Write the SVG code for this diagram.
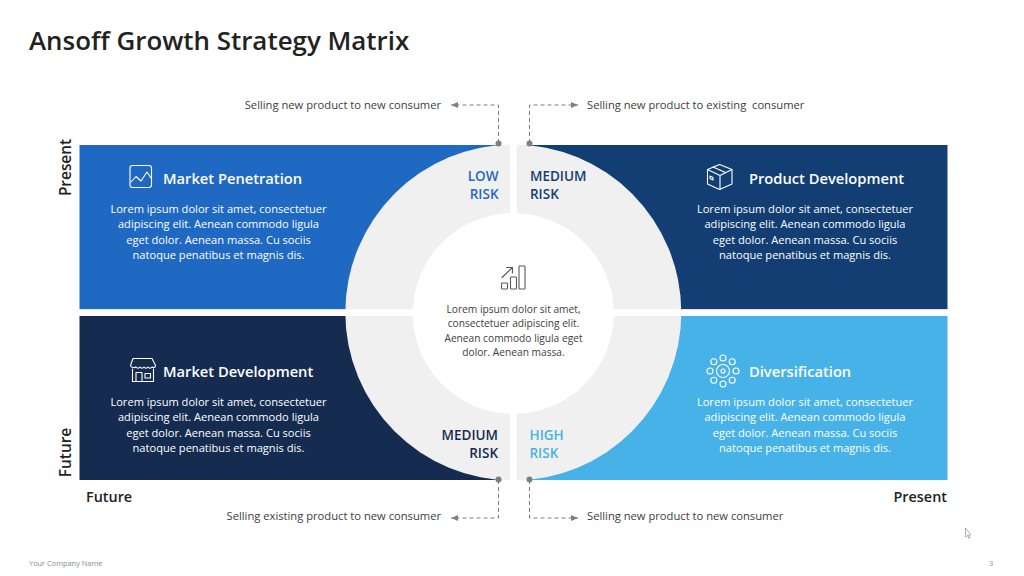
<svg xmlns="http://www.w3.org/2000/svg" width="1024" height="576" viewBox="0 0 1024 576">
<defs>
<marker id="ah" markerWidth="8" markerHeight="7" refX="7" refY="3" orient="auto" markerUnits="userSpaceOnUse"><path d="M0 0L7 3L0 6z" fill="#7f7f7f"/></marker>
</defs>
<style>
text{font-family:"Open Sans","Noto Sans","Liberation Sans",sans-serif}
.title{font-size:25.9px;font-weight:600;fill:#222}
.h{font-size:14.7px;font-weight:600;fill:#fff}
.b{font-size:11.1px;fill:#fff;text-anchor:middle}
.c{font-size:10.2px;fill:#404040;text-anchor:middle}
.cap{font-size:11.2px;fill:#404040;white-space:pre}
.ax{font-size:14.4px;font-weight:600;fill:#222}
.axv{font-size:15.4px}
.r{font-size:13.5px;font-weight:600}
.e{text-anchor:end}
.ic{fill:none;stroke:#fff;stroke-width:1.1;stroke-linejoin:round;stroke-linecap:round}
.conn{fill:none;stroke:#7f7f7f;stroke-width:1;stroke-dasharray:4 3}
.dot{fill:#7f7f7f}
.ft{font-size:7.4px;fill:#8c8c8c}
</style>
<rect width="1024" height="576" fill="#fff"/>
<text class="title" x="29" y="49.500">Ansoff Growth Strategy Matrix</text>

<g id="quadrants">
<rect id="q1" x="79.500" y="145" width="434" height="164.500" fill="#1f69c3"/>
<rect id="q2" x="513.500" y="145" width="434" height="164.500" fill="#123e73"/>
<rect id="q3" x="79.500" y="316" width="434" height="164" fill="#152c50"/>
<rect id="q4" x="513.500" y="316" width="434" height="164" fill="#47b2e7"/>
</g>
<g id="ring">
<circle cx="513.300" cy="312.500" r="168" fill="#f0f0f0"/>
<rect x="79" y="309.300" width="869" height="6.700" fill="#fff"/>
<rect x="510" y="140" width="6.800" height="345" fill="#fff"/>
<circle cx="513.300" cy="313.500" r="100.500" fill="#fff"/>
</g>

<g id="connectors">
<path class="conn" d="M498.500 143V105H451" marker-end="url(#ah)"/>
<path class="conn" d="M529.500 143V105H578" marker-end="url(#ah)"/>
<path class="conn" d="M498.500 480V518H451" marker-end="url(#ah)"/>
<path class="conn" d="M529.500 480V518H578" marker-end="url(#ah)"/>
<circle class="dot" cx="498.500" cy="143.500" r="3"/>
<circle class="dot" cx="529.500" cy="143.500" r="3"/>
<circle class="dot" cx="498.500" cy="479.500" r="3"/>
<circle class="dot" cx="529.500" cy="479.500" r="3"/>
</g>

<g id="node-market-penetration">
<g class="ic"><rect x="130" y="165.500" width="21.500" height="22" rx="2.500"/><path d="M131 182L136 176.500L141 181L147 172L151 178"/></g>
<text class="h" x="163" y="183.500">Market Penetration</text>
<text class="b" x="218.500" y="212.500">Lorem ipsum dolor sit amet, consectetuer</text>
<text class="b" x="218.500" y="228">adipiscing elit. Aenean commodo ligula</text>
<text class="b" x="218.500" y="243.500">eget dolor. Aenean massa. Cu sociis</text>
<text class="b" x="218.500" y="258.500">natoque penatibus et magnis dis.</text>
</g>
<g id="node-product-development">
<g class="ic"><path d="M719.500 164.500L732 169.500V184L719.500 189.500L707.500 184V169.500z"/><path d="M707.500 169.500L720 175.500L732 169.500M720 175.500V189.500M713 167L725.500 172.500"/><path d="M710 176l3 1.500v2.500l-3 -1.500z"/></g>
<text class="h" x="749" y="183.500">Product Development</text>
<text class="b" x="805" y="212.500">Lorem ipsum dolor sit amet, consectetuer</text>
<text class="b" x="805" y="228">adipiscing elit. Aenean commodo ligula</text>
<text class="b" x="805" y="243.500">eget dolor. Aenean massa. Cu sociis</text>
<text class="b" x="805" y="258.500">natoque penatibus et magnis dis.</text>
</g>
<g id="node-market-development">
<g class="ic"><path d="M133 358.500H152L155.500 365.500C155.500 368 153 368 152 367C151 368.500 149 368.500 148 367C147 368.500 145 368.500 144 367C143 368.500 141 368.500 140 367C139 368.500 137 368.500 136 367C135 368 131 368 130.500 365.500z"/><path d="M132.500 369V381.500H153.500V369M136 381.500V372.500H142V381.500M145 373.500H150.500V378H145z"/></g>
<text class="h" x="163" y="376.500">Market Development</text>
<text class="b" x="218.500" y="405.500">Lorem ipsum dolor sit amet, consectetuer</text>
<text class="b" x="218.500" y="421">adipiscing elit. Aenean commodo ligula</text>
<text class="b" x="218.500" y="436.500">eget dolor. Aenean massa. Cu sociis</text>
<text class="b" x="218.500" y="452">natoque penatibus et magnis dis.</text>
</g>
<g id="node-diversification">
<g class="ic"><circle cx="723" cy="371" r="6.500"/><circle cx="723" cy="371" r="2"/><circle cx="723" cy="358" r="3"/><circle cx="723" cy="384" r="3"/><circle cx="710" cy="371" r="3"/><circle cx="736" cy="371" r="3"/><circle cx="713.800" cy="361.800" r="3"/><circle cx="732.200" cy="361.800" r="3"/><circle cx="713.800" cy="380.200" r="3"/><circle cx="732.200" cy="380.200" r="3"/></g>
<text class="h" x="749" y="376.500">Diversification</text>
<text class="b" x="805" y="405.500">Lorem ipsum dolor sit amet, consectetuer</text>
<text class="b" x="805" y="421">adipiscing elit. Aenean commodo ligula</text>
<text class="b" x="805" y="436.500">eget dolor. Aenean massa. Cu sociis</text>
<text class="b" x="805" y="452">natoque penatibus et magnis dis.</text>
</g>

<g id="node-center">
<g fill="none" stroke="#595959" stroke-width="1.100" stroke-linejoin="round" stroke-linecap="round"><rect x="501.500" y="283" width="6" height="6" rx=".8"/><rect x="510.500" y="277" width="6" height="12" rx=".8"/><rect x="519" y="266" width="6" height="23" rx=".8"/><path d="M502 277.500L512.500 267.500M506.500 267.500H512.500V273"/></g>
<text class="c" x="513.500" y="313">Lorem ipsum dolor sit amet,</text>
<text class="c" x="513.500" y="327">consectetuer adipiscing elit.</text>
<text class="c" x="513.500" y="341.500">Aenean commodo ligula eget</text>
<text class="c" x="513.500" y="355.500">dolor. Aenean massa.</text>
</g>

<g id="risk-labels">
<text class="r e" fill="#1f69c3" x="498.500" y="180.500">LOW</text>
<text class="r e" fill="#1f69c3" x="498.500" y="198.500">RISK</text>
<text class="r" fill="#123e73" x="530" y="180.500">MEDIUM</text>
<text class="r" fill="#123e73" x="530" y="198.500">RISK</text>
<text class="r e" fill="#152c50" x="498" y="440">MEDIUM</text>
<text class="r e" fill="#152c50" x="498" y="458">RISK</text>
<text class="r" fill="#47b2e7" x="529.500" y="440">HIGH</text>
<text class="r" fill="#47b2e7" x="529.500" y="458">RISK</text>
</g>

<g id="captions">
<text class="cap e" x="441" y="109">Selling new product to new consumer</text>
<text class="cap" x="587" y="109">Selling new product to existing  consumer</text>
<text class="cap e" x="441" y="520">Selling existing product to new consumer</text>
<text class="cap" x="587" y="520">Selling new product to new consumer</text>
</g>

<g id="axes">
<text class="ax axv" text-anchor="middle" transform="translate(71 167.500) rotate(-90)">Present</text>
<text class="ax axv" text-anchor="middle" transform="translate(71 452.500) rotate(-90)">Future</text>
<text class="ax" x="86" y="502">Future</text>
<text class="ax e" x="947" y="502">Present</text>
</g>

<text class="ft" x="29" y="566">Your Company Name</text>
<text class="ft" x="989" y="566">3</text>
<path d="M965.500 528V537L967.500 535.500L969 538.500L970 538L968.500 535H971z" fill="#fff" stroke="#8c8c8c" stroke-width=".7"/>
</svg>
